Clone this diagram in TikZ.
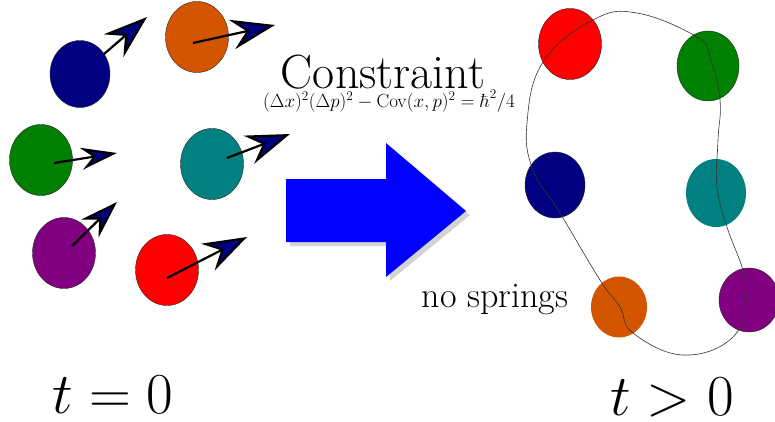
\RequirePackage{fix-cm}
\documentclass[tikz,border=0pt]{standalone}
\usepackage{tikz}
\usetikzlibrary{shapes.geometric, arrows.meta, shadows}
\usepackage{amsmath}
\usepackage{xcolor}

\definecolor{pnavy}{RGB}{0,0,128}
\definecolor{porange}{RGB}{212,85,0}
\definecolor{pgreen}{RGB}{0,128,0}
\definecolor{pteal}{RGB}{0,128,128}
\definecolor{ppurple}{RGB}{128,0,128}
\definecolor{pred}{RGB}{255,0,0}
\definecolor{pblue}{RGB}{0,0,255}

\begin{document}
\begin{tikzpicture}[
        x=1pt, y=-1pt,
        particle/.style={ellipse, draw=black!85, thin, minimum width=63pt, minimum height=71pt, inner sep=0pt},
        blob/.style={ellipse, minimum width=60pt, minimum height=66pt, inner sep=0pt},
        velocity/.style={-{Stealth[length=44pt, width=30pt, inset=15pt, fill=pnavy]}, line width=2.2pt, draw=black},
        bigtext/.style={inner sep=0pt, anchor=base}
    ]
    \useasboundingbox (0,0) rectangle (775,421);

    % The particles at t = 0
    \node (navyL)   [particle, fill=pnavy, minimum width=60pt, minimum height=67pt] at (80,74) {};
    \node (orangeL) [particle, fill=porange] at (197,37) {};
    \node (greenL)  [particle, fill=pgreen] at (41,160) {};
    \node (tealL)   [particle, fill=pteal] at (212,164) {};
    \node (purpleL) [particle, fill=ppurple] at (64,253) {};
    \node (redL)    [particle, fill=pred] at (167,270) {};

    % The velocity arrows
    \coordinate (navyS) at (104,54);    \coordinate (navyV) at (147,17);
    \coordinate (orangeS) at (193,43);  \coordinate (orangeV) at (275,25);
    \coordinate (greenS) at (54,163);   \coordinate (greenV) at (117,153);
    \coordinate (tealS) at (227,158);   \coordinate (tealV) at (290,134);
    \coordinate (purpleS) at (72,246);  \coordinate (purpleV) at (117,202);
    \coordinate (redS) at (167,278);    \coordinate (redV) at (247,237);
    \draw [velocity] (navyS) -- (navyV);
    \draw [velocity] (orangeS) -- (orangeV);
    \draw [velocity, {-{Stealth[length=36pt, width=22pt, inset=12pt, fill=pnavy]}}] (greenS) -- (greenV);
    \draw [velocity] (tealS) -- (tealV);
    \draw [velocity, {-{Stealth[length=38pt, width=25pt, inset=13pt, fill=pnavy]}}] (purpleS) -- (purpleV);
    \draw [velocity] (redS) -- (redV);

    % The big arrow and its labels
    \fill [pblue, drop shadow={opacity=0.35, shadow xshift=4pt, shadow yshift=-4pt}]
        (286,179) -- (386,179) -- (386,143) -- (466,211) -- (386,277) -- (386,242) -- (286,242) -- cycle;
    \node (constraint) [bigtext, font=\fontsize{48}{50}\selectfont] at (383,88) {Constraint};
    \node (relation) [bigtext, font=\fontsize{19}{21}\selectfont] at (389,107)
        {$(\Delta x)^2(\Delta p)^2-\mathrm{Cov}(x,p)^2=\hbar^2/4$};
    \node (nosprings) [bigtext, font=\fontsize{36}{38}\selectfont] at (495,307) {no springs};

    % The particles at t > 0
    \node (redR)    [particle, fill=pred] at (570,44) {};
    \node (greenR)  [particle, fill=pgreen, minimum width=62pt, minimum height=70pt] at (708,66) {};
    \node (navyR)   [particle, fill=pnavy, minimum width=60pt, minimum height=66pt] at (555,185) {};
    \node (tealR)   [blob, fill=pteal, minimum height=68pt] at (716,193) {};
    \node (orangeR) [blob, fill=porange, minimum width=56pt, minimum height=61pt] at (619,307) {};
    \node (purpleR) [particle, fill=ppurple, minimum width=60pt, minimum height=64pt] at (749,300) {};

    % The closed curve
    \draw [black!80, line width=0.6pt] plot [smooth cycle, tension=0.7] coordinates {
        (637,13) (697,37) (710,57) (720,100) (718,140) (717,187) (727,227) (742,267)
        (747,293) (733,337) (683,355) (633,333) (620,307) (600,280) (560,213)
        (533,170) (527,123) (543,62) (593,20)};

    % The times
    \node (tzero) [bigtext, font=\fontsize{58}{60}\selectfont] at (113,413) {$t=0$};
    \node (tlater) [bigtext, font=\fontsize{58}{60}\selectfont] at (672,415) {$t>0$};

    \end{tikzpicture}
\end{document}
